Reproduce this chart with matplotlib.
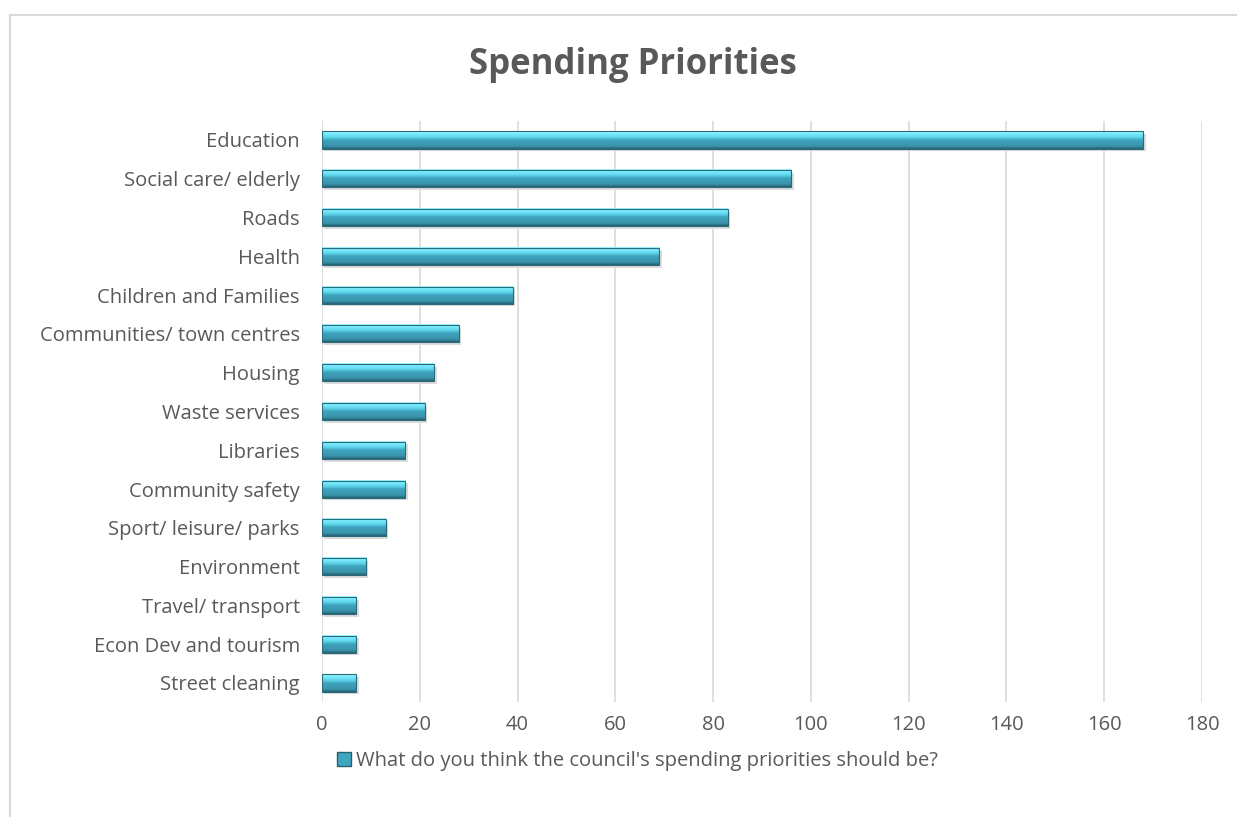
import numpy as np
import matplotlib
matplotlib.use("Agg")
import matplotlib.pyplot as plt
from matplotlib.lines import Line2D
from matplotlib.patches import Rectangle
from matplotlib.colors import LinearSegmentedColormap

# data, top to bottom
categories = ["Education", "Social care/ elderly", "Roads", "Health",
              "Children and Families", "Communities/ town centres", "Housing",
              "Waste services", "Libraries", "Community safety",
              "Sport/ leisure/ parks", "Environment", "Travel/ transport",
              "Econ Dev and tourism", "Street cleaning"]
values = [168, 96, 83, 69, 39, 28, 23, 21, 17, 17, 13, 9, 7, 7, 7]
xticks = [0, 20, 40, 60, 80, 100, 120, 140, 160, 180]
series_name = "What do you think the council's spending priorities should be?"

grey = "#595959"
plt.rcParams['font.family'] = ['Open Sans', 'DejaVu Sans']

# bevel-ish gradient, top of bar -> bottom of bar
bevel = LinearSegmentedColormap.from_list("bevel", [
    (0.0, "#a6f7ff"), (0.12, "#7eeeff"), (0.35, "#5cd3ea"),
    (0.5, "#3ea3bd"), (0.85, "#3a93ab"), (1.0, "#24606f")])
grad = np.linspace(0, 1, 64).reshape(-1, 1)

fig = plt.figure(figsize=(12.37, 8.17), dpi=100)
ax = fig.add_axes([0.2603, 0.1403, 0.7114, 0.7121])

y = np.arange(len(categories))
h = 0.44

# soft shadow under each bar
ax.barh(y + 0.07, values, height=h, left=0.5, color="#dcdcdc", zorder=2)
for yi, v in zip(y, values):
    ax.imshow(grad, cmap=bevel, extent=[0, v, yi + h / 2, yi - h / 2],
              aspect="auto", interpolation="bilinear", zorder=3)
ax.barh(y, values, height=h, facecolor="none", edgecolor="#2b6a7b",
        linewidth=0.8, zorder=4)

ax.set_xlim(0, 180)
ax.set_ylim(len(categories) - 0.5, -0.5)
ax.set_xticks(xticks)
ax.set_yticks(y)
ax.set_yticklabels(categories)
ax.tick_params(axis="both", length=0, labelsize=14.5, colors=grey)
ax.tick_params(axis="y", pad=16)
ax.tick_params(axis="x", pad=9)
for s in ax.spines.values():
    s.set_visible(False)
ax.grid(axis="x", color="#d9d9d9", linewidth=1.2, zorder=0)
ax.set_axisbelow(True)

fig.text(0.512, 0.921, "Spending Priorities", ha="center", va="center",
         fontsize=25, fontweight="bold", color=grey)

handle = Rectangle((0, 0), 1, 1, facecolor="#3fa6c0", edgecolor="#24606f")
fig.legend([handle], [series_name], loc="center", bbox_to_anchor=(0.515, 0.068),
           frameon=False, fontsize=14.5, labelcolor=grey, handlelength=0.7,
           handleheight=0.7, handletextpad=0.25)

# chart border (cropped at right / bottom)
fig.add_artist(Line2D([10 / 1237, 1.0], [1 - 15 / 817, 1 - 15 / 817],
                      transform=fig.transFigure, color="#d9d9d9", linewidth=1.5))
fig.add_artist(Line2D([10 / 1237, 10 / 1237], [0, 1 - 15 / 817],
                      transform=fig.transFigure, color="#d9d9d9", linewidth=1.5))

plt.savefig("out.png", dpi=100)
plt.close()
